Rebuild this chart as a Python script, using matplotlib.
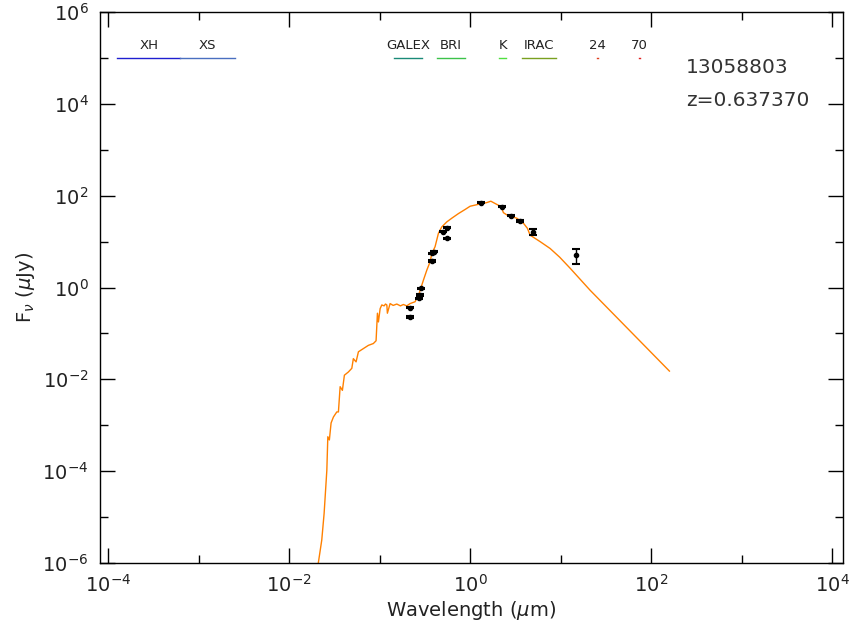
import numpy as np
import matplotlib
matplotlib.use("Agg")
import matplotlib.pyplot as plt
from matplotlib.ticker import NullFormatter

# model SED (rest frame): log10 wavelength [um], log10 flux [uJy]
model_loglam = [-1.700, -1.639, -1.613, -1.583, -1.572, -1.555, -1.536, -1.510, -1.473,
                -1.455, -1.436, -1.411, -1.389, -1.345, -1.307, -1.290, -1.260, -1.234,
                -1.179, -1.124, -1.069, -1.039, -1.024, -1.013, -0.994, -0.976, -0.950,
                -0.935, -0.920, -0.914, -0.884, -0.850, -0.810, -0.770, -0.737, -0.700,
                -0.663, -0.608, -0.571, -0.552, -0.516, -0.478, -0.442, -0.423, -0.387,
                -0.350, -0.313, -0.257, -0.202, -0.129, -0.055, 0.000, 0.110, 0.185,
                0.229, 0.276, 0.343, 0.368, 0.423, 0.516, 0.589, 0.633, 0.663, 0.773,
                0.884, 0.990, 1.105, 1.326, 2.202]
model_logf = [-6.30, -5.50, -4.92, -3.98, -3.25, -3.32, -2.95, -2.82, -2.71,
              -2.71, -2.16, -2.24, -1.91, -1.84, -1.76, -1.55, -1.62, -1.40,
              -1.33, -1.26, -1.22, -1.16, -0.56, -0.75, -0.46, -0.38, -0.40,
              -0.36, -0.38, -0.56, -0.35, -0.39, -0.36, -0.40, -0.37, -0.40,
              -0.35, -0.31, -0.17, -0.06, 0.16, 0.38, 0.56, 0.74, 0.89,
              1.18, 1.32, 1.43, 1.51, 1.61, 1.70, 1.77, 1.82, 1.85,
              1.88, 1.83, 1.76, 1.63, 1.56, 1.51, 1.40, 1.29, 1.14, 1.00,
              0.85, 0.66, 0.42, -0.06, -1.82]

# photometry
obs_lam = [0.217, 0.217, 0.273, 0.280, 0.288, 0.378, 0.378, 0.400, 0.499, 0.553, 0.553,
           1.32, 2.24, 2.82, 3.57, 4.93, 14.7]
obs_flux = [0.361, 0.230, 0.579, 0.683, 0.955, 3.76, 5.53, 6.0, 16.4, 20.0, 11.7,
            70.0, 57.3, 36.5, 28.0, 16.4, 5.08]
obs_err = [0.012, 0.008, 0.02, 0.025, 0.035, 0.12, 0.18, 0.2, 0.5, 0.6, 0.4,
           2.0, 1.8, 1.2, 1.0, 2.3, 1.9]

# filter coverage bars along the top
filt_names = ["XH", "XS", "GALEX", "BRI", "K", "IRAC", "24", "70"]
filt_lo = [1.27e-4, 6.2e-4, 0.1435, 0.43, 2.09, 3.76, 25.0, 74.0]
filt_hi = [6.2e-4, 2.53e-3, 0.295, 0.88, 2.5, 9.0, 25.6, 75.6]
filt_colors = ["#1f1fd0", "#4a6fc0", "#1a8a78", "#3cc24a", "#50e040", "#7aa020",
               "#e04020", "#e02020"]

obj_id = "13058803"
redshift = "z=0.637370"

major_x = [1e-4, 1e-2, 1e0, 1e2, 1e4]
minor_x = [1e-3, 1e-1, 1e1, 1e3]
major_y = [1e-6, 1e-4, 1e-2, 1e0, 1e2, 1e4, 1e6]
minor_y = [1e-5, 1e-3, 1e-1, 1e1, 1e3, 1e5]

plt.rcParams["font.family"] = "DejaVu Sans"
fig = plt.figure(figsize=(8.51, 6.33), dpi=100)
ax = fig.add_axes([0.117, 0.1106, 0.8736, 0.8704])

ax.plot(10**np.array(model_loglam), 10**np.array(model_logf), color="#ff8000", lw=1.0)
ax.errorbar(obs_lam, obs_flux, yerr=obs_err, fmt="o", ms=3, color="black",
            ecolor="black", elinewidth=1.0, capsize=3, capthick=1.5)

for name, lo, hi, c in zip(filt_names, filt_lo, filt_hi, filt_colors):
    ax.plot([lo, hi], [1e5, 1e5], color=c, lw=1.0)
    ax.text(np.sqrt(lo*hi), 1.35e5, name, ha="center", va="bottom",
            fontsize=9.5, color="#222222")

ax.text(0.789, 0.889, obj_id, transform=ax.transAxes, fontsize=14.5, color="#333333")
ax.text(0.789, 0.829, redshift, transform=ax.transAxes, fontsize=14.5, color="#333333")

ax.set_xscale("log")
ax.set_yscale("log")
ax.set_xlim(10**-4.094, 10**4.12)
ax.set_ylim(1e-6, 1e6)

ax.set_xticks(major_x)
ax.set_xticks(minor_x, minor=True)
ax.set_yticks(major_y)
ax.set_yticks(minor_y, minor=True)
ax.xaxis.set_minor_formatter(NullFormatter())
ax.yaxis.set_minor_formatter(NullFormatter())

ax.tick_params(which="both", direction="in", top=True, right=True, width=1.0,
               labelsize=14, labelcolor="#222222")
ax.tick_params(which="major", length=11, pad=8)
ax.tick_params(which="minor", length=6)
for s in ax.spines.values():
    s.set_linewidth(1.0)

ax.set_xlabel(r"Wavelength ($\mu$m)", fontsize=14, color="#222222", labelpad=2)
ax.set_ylabel(r"F$_\nu$ ($\mu$Jy)", fontsize=14, color="#222222", labelpad=4)

fig.savefig("out.png", dpi=100)
